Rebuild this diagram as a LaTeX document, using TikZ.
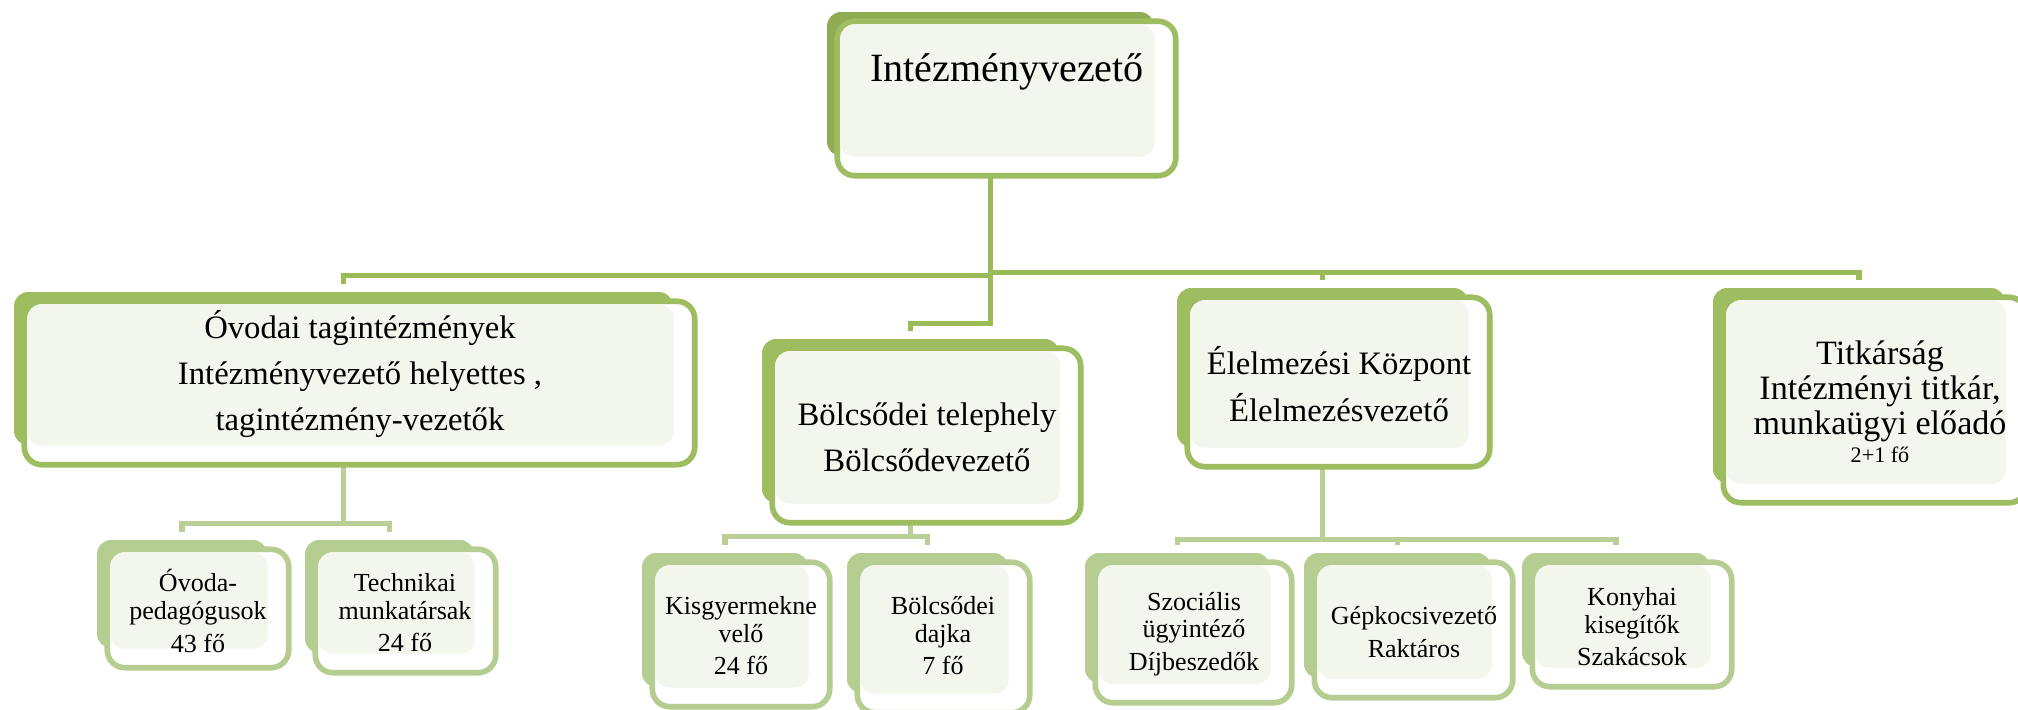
\documentclass[tikz,border=0pt]{standalone}
\usepackage{fontspec}
\setmainfont{Liberation Serif}
\usetikzlibrary{fit,calc,backgrounds}

\definecolor{zoldA}{RGB}{143,172,82}
\definecolor{zoldB}{RGB}{158,188,96}
\definecolor{zoldC}{RGB}{182,205,146}
\definecolor{vonalA}{RGB}{155,187,89}
\definecolor{vonalB}{RGB}{185,207,150}
\definecolor{halvany}{RGB}{242,246,236}

\tikzset{
  backbox/.style={fill=#1, rounded corners=4pt, inner sep=0pt},
  frontbox/.style={draw=#1, fill=white, line width=1.6pt, rounded corners=5pt},
  lightbox/.style={fill=halvany, rounded corners=4pt},
  conn/.style={draw=#1, line width=1.5pt, shorten >=2pt},
  felsoszoveg/.style={font=\fontsize{11.4}{13}\selectfont},
  szoveg/.style={align=center, font=\fontsize{9.3}{13.2}\selectfont},
  kisszoveg/.style={align=center, font=\fontsize{7.4}{7.8}\selectfont},
}

% one box: name, corners of the back plate, back colour, frame colour
\newcommand{\doboz}[7]{%
  \node[backbox=#6, fit={(#2,#3) (#4,#5)}] (#1) {};
  \draw[frontbox=#7] ($(#1.north west)+(11,10)$) rectangle ($(#1.south east)+(21,19)$);
  \fill[lightbox] ($(#1.north west)+(14,13)$) rectangle (#1.south east);
}

\begin{document}
\begin{tikzpicture}[x=0.01cm, y=-0.01cm]
  \useasboundingbox (0,0) rectangle (2018,709);

  % top level
  \doboz{vezeto}{827}{12}{1154}{156}{zoldA}{zoldB}
  \node[felsoszoveg] (vezeto-t) at (1007,72) {Intézményvezető};

  % second level
  \doboz{ovodai}{14}{292}{673}{445}{zoldB}{zoldB}
  \doboz{bolcs}{762}{339}{1059}{503}{zoldB}{zoldB}
  \doboz{elelm}{1177}{288}{1468}{447}{zoldB}{zoldB}
  \doboz{titkar}{1713}{288}{2005}{483}{zoldB}{zoldB}
  \node[szoveg] (ovodai-t) at (360,374) {Óvodai tagintézmények\\Intézményvezető helyettes ,\\tagintézmény-vezetők};
  \node[szoveg] (bolcs-t) at (927,437) {Bölcsődei telephely\\Bölcsődevezető};
  \node[szoveg] (elelm-t) at (1339,384) {Élelmezési Központ\\Élelmezésvezető};
  \node[align=center, font=\fontsize{9.7}{10}\selectfont] (titkar-t) at (1880,402)
    {Titkárság\\Intézményi titkár,\\munkaügyi előadó\\[-2pt]{\fontsize{6.3}{7}\selectfont 2+1 fő}};

  % third level
  \doboz{ovpeda}{97}{540}{267}{648}{zoldC}{zoldC}
  \doboz{techn}{305}{540}{474}{653}{zoldC}{zoldC}
  \doboz{kisgy}{642}{553}{808}{687}{zoldC}{zoldC}
  \doboz{dajka}{847}{553}{1008}{693}{zoldC}{zoldC}
  \doboz{szoc}{1085}{553}{1270}{683}{zoldC}{zoldC}
  \doboz{gepk}{1304}{553}{1491}{678}{zoldC}{zoldC}
  \doboz{konyha}{1522}{553}{1710}{667}{zoldC}{zoldC}
  \node[kisszoveg] (ovpeda-t) at (198,611) {Óvoda-\\pedagógusok\\[1.5pt]43 fő};
  \node[kisszoveg] (techn-t) at (405,613) {Technikai\\munkatársak\\[1.5pt]24 fő};
  \node[kisszoveg] (kisgy-t) at (741,636) {Kisgyermekne\\velő\\[1.5pt]24 fő};
  \node[kisszoveg] (dajka-t) at (943,636) {Bölcsődei\\dajka\\[1.5pt]7 fő};
  \node[kisszoveg] (szoc-t) at (1194,634) {Szociális\\ügyintéző\\[1.5pt]Díjbeszedők};
  \node[kisszoveg] (gepk-t) at (1414,632) {Gépkocsivezető\\[1.5pt]Raktáros};
  \node[kisszoveg] (konyha-t) at (1632,627) {Konyhai\\kisegítők\\[1.5pt]Szakácsok};

  % connectors
  \begin{scope}[on background layer]
    \draw[conn=vonalA] (vezeto.south) -- ++(0,119) -| (ovodai.north);
    \draw[conn=vonalA] (vezeto.south) -- ++(0,167) -| (bolcs.north);
    \draw[conn=vonalA] (vezeto.south) -- ++(0,116) -| (elelm.north);
    \draw[conn=vonalA] (vezeto.south) -- ++(0,116) -| (titkar.north);
    \foreach \gyerek in {ovpeda,techn}
      \draw[conn=vonalB] (ovodai.south) -- ++(0,78) -| (\gyerek.north);
    \foreach \gyerek in {kisgy,dajka}
      \draw[conn=vonalB] (bolcs.south) -- ++(0,33) -| (\gyerek.north);
    \foreach \gyerek in {szoc,gepk,konyha}
      \draw[conn=vonalB] (elelm.south) -- ++(0,92) -| (\gyerek.north);
  \end{scope}
\end{tikzpicture}
\end{document}
